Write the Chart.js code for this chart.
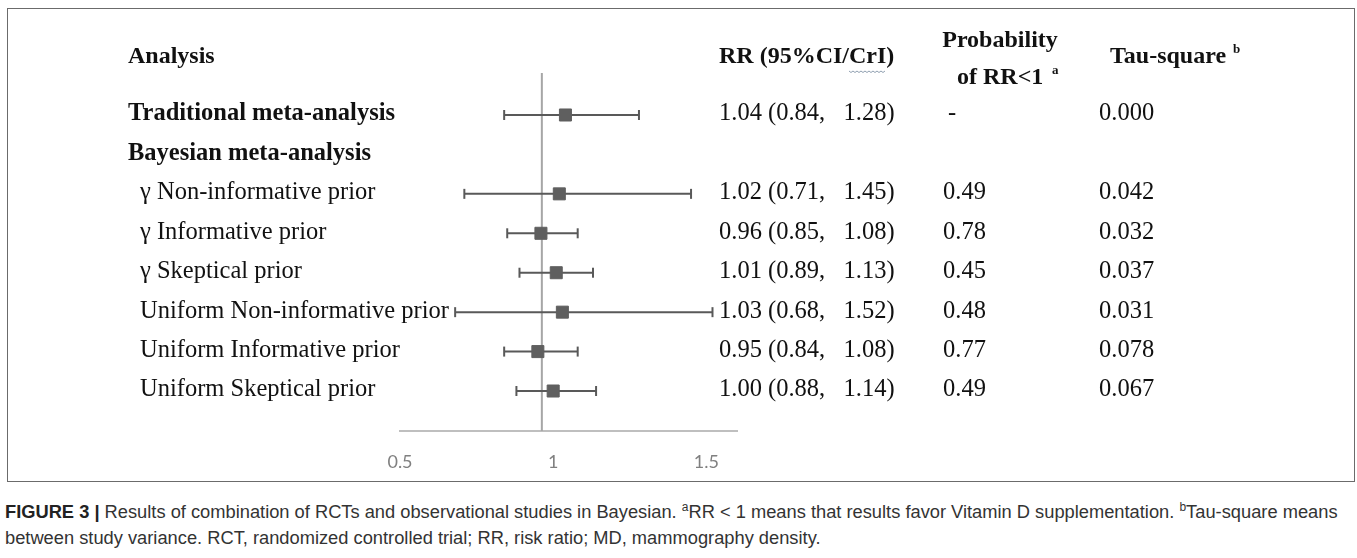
<!DOCTYPE html>
<html lang="en">
<head>
    <meta charset="UTF-8">
    <title>Figure 3 - Bayesian forest plot</title>
    <script src="https://cdn.jsdelivr.net/npm/chart.js"></script>
    <style>
        body {
            margin: 0;
            background: #ffffff;
            width: 1357px;
            height: 558px;
            overflow: hidden;
            position: relative;
        }
        .frame {
            position: absolute;
            left: 7px;
            top: 8px;
            width: 1346px;
            height: 472px;
            border: 1.5px solid #6b6b6b;
        }
        #forest {
            position: absolute;
            left: 0;
            top: 0;
        }
        .caption {
            position: absolute;
            left: 5px;
            top: 499px;
            font-family: "Liberation Sans", Arial, sans-serif;
            font-size: 18.3px;
            line-height: 26px;
            color: #333;
            white-space: nowrap;
        }
        .caption b { color: #222; }
        .caption sup { font-size: 12px; line-height: 0; }
    </style>
</head>
<body>
    <div class="frame"></div>
    <canvas id="forest" width="1357" height="490"></canvas>
    <div class="caption">
        <b>FIGURE 3 |</b> Results of combination of RCTs and observational studies in Bayesian. <sup>a</sup>RR &lt; 1 means that results favor Vitamin D supplementation. <sup>b</sup>Tau-square means<br>
        between study variance. RCT, randomized controlled trial; RR, risk ratio; MD, mammography density.
    </div>

    <script>
        // rows of the table (index 1 is the Bayesian sub-heading, no estimate)
        const rowLabels = [
            'Traditional meta-analysis',
            'Bayesian meta-analysis',
            'γ Non-informative prior',
            'γ Informative prior',
            'γ Skeptical prior',
            'Uniform Non-informative prior',
            'Uniform Informative prior',
            'Uniform Skeptical prior'
        ];
        const boldRows = [true, true, false, false, false, false, false, false];
        const rr    = [1.04, null, 1.02, 0.96, 1.01, 1.03, 0.95, 1.00];
        const lower = [0.84, null, 0.71, 0.85, 0.89, 0.68, 0.84, 0.88];
        const upper = [1.28, null, 1.45, 1.08, 1.13, 1.52, 1.08, 1.14];
        const probBelow1 = ['-', '', '0.49', '0.78', '0.45', '0.48', '0.77', '0.49'];
        const tauSquare  = ['0.000', '', '0.042', '0.032', '0.037', '0.031', '0.078', '0.067'];
        const xTicks = [0.5, 1, 1.5];
        const refLine = 0.963;

        const serif = '"Liberation Serif", "Times New Roman", serif';
        const ink = '#595959';

        // build point lists from the arrays
        const estimatePts = [], capPts = [], whiskerPts = [];
        rr.forEach((v, i) => {
            if (v == null) return;
            estimatePts.push({ x: v, y: i });
            capPts.push({ x: lower[i], y: i }, { x: upper[i], y: i });
            whiskerPts.push({ x: lower[i], y: i }, { x: upper[i], y: i }, { x: upper[i], y: null });
        });
        const yTop = -1.065, yBottom = 8.014;

        const tablePlugin = {
            id: 'tableText',
            afterDraw(chart) {
                const ctx = chart.ctx;
                const ys = chart.scales.y;
                ctx.save();
                ctx.fillStyle = '#111';
                ctx.textBaseline = 'middle';
                ctx.textAlign = 'left';

                // header row
                ctx.font = 'bold 24px ' + serif;
                ctx.fillText('Analysis', 128, 57);
                ctx.fillText('RR (95%CI/CrI)', 719, 57);
                // spell-check squiggle under "CrI"
                const wStart = 719 + ctx.measureText('RR (95%CI/').width;
                const wEnd = wStart + ctx.measureText('CrI').width;
                ctx.strokeStyle = '#8f9fb0';
                ctx.lineWidth = 1;
                ctx.beginPath();
                for (let x = wStart, k = 0; x <= wEnd; x += 2, k++) {
                    const yy = 71 + (k % 2 ? 1.5 : 0);
                    if (k === 0) ctx.moveTo(x, yy); else ctx.lineTo(x, yy);
                }
                ctx.stroke();

                ctx.textAlign = 'center';
                ctx.fillText('Probability', 1000, 41);
                ctx.textAlign = 'left';
                ctx.fillText('of RR<1', 957, 78);
                ctx.fillText('Tau-square', 1110, 57);
                ctx.font = 'bold 13px ' + serif;
                ctx.fillText('a', 1052, 71);
                ctx.fillText('b', 1233, 50);

                // body rows
                rowLabels.forEach((label, i) => {
                    const py = ys.getPixelForValue(i) - 1;
                    ctx.font = (boldRows[i] ? 'bold ' : '') + '24.5px ' + serif;
                    ctx.fillText(label, boldRows[i] ? 128 : 140, py);
                    ctx.font = '24.5px ' + serif;
                    if (rr[i] != null) {
                        ctx.fillText(rr[i].toFixed(2) + ' (' + lower[i].toFixed(2) + ',   ' + upper[i].toFixed(2) + ')', 719, py);
                    }
                    ctx.fillText(probBelow1[i], probBelow1[i] === '-' ? 948 : 943, py);
                    ctx.fillText(tauSquare[i], 1099, py);
                });
                ctx.restore();
            }
        };

        new Chart(document.getElementById('forest'), {
            type: 'scatter',
            data: {
                datasets: [
                    {
                        type: 'line',
                        data: [{ x: refLine, y: yTop }, { x: refLine, y: yBottom }],
                        borderColor: '#a6a6a6',
                        borderWidth: 2,
                        pointRadius: 0,
                        order: 4
                    },
                    {
                        type: 'line',
                        data: whiskerPts,
                        borderColor: ink,
                        borderWidth: 2,
                        pointRadius: 0,
                        spanGaps: false,
                        order: 3
                    },
                    {
                        data: capPts,
                        pointStyle: 'line',
                        rotation: 90,
                        radius: 5,
                        borderColor: ink,
                        borderWidth: 2,
                        order: 2
                    },
                    {
                        data: estimatePts,
                        pointStyle: 'rect',
                        radius: 8.5,
                        backgroundColor: '#5f5f5f',
                        borderColor: '#5f5f5f',
                        borderWidth: 1,
                        order: 1
                    }
                ]
            },
            options: {
                responsive: false,
                animation: false,
                clip: false,
                layout: { padding: { left: 400, right: 620, top: 73, bottom: 9 } },
                plugins: { legend: { display: false }, tooltip: { enabled: false } },
                scales: {
                    x: {
                        type: 'linear',
                        min: 0.5,
                        max: 1.6,
                        afterBuildTicks: (scale) => { scale.ticks = xTicks.map(v => ({ value: v })); },
                        afterFit: (scale) => { scale.height = 50; },
                        grid: { display: false },
                        border: { display: true, color: '#bfbfbf', width: 2 },
                        ticks: {
                            padding: 12,
                            color: '#808080',
                            font: { family: 'Lato, "Open Sans", sans-serif', size: 18 },
                            callback: (v) => String(v)
                        }
                    },
                    y: {
                        type: 'linear',
                        reverse: true,
                        min: yTop,
                        max: yBottom,
                        display: false
                    }
                }
            },
            plugins: [tablePlugin]
        });
    </script>
</body>
</html>
